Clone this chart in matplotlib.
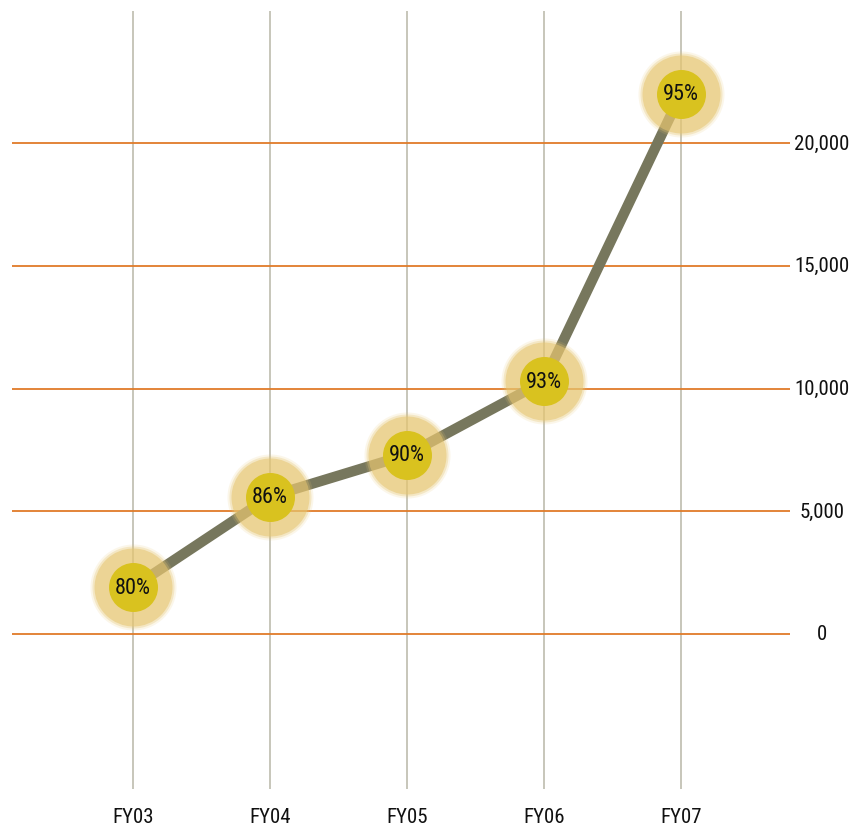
import numpy as np
import matplotlib
matplotlib.use('Agg')
import matplotlib.pyplot as plt

years = ['FY03', 'FY04', 'FY05', 'FY06', 'FY07']
values = [1900, 5600, 7300, 10300, 22000]
pct_labels = ['80%', '86%', '90%', '93%', '95%']
y_ticks = [0, 5000, 10000, 15000, 20000]

plt.rcParams['font.family'] = ['Roboto Condensed', 'Archivo Narrow', 'DejaVu Sans']

W, H = 866, 829
fig = plt.figure(figsize=(W / 100, H / 100), dpi=100)
# axes box spans pixel 12..790 both ways
ax = fig.add_axes([12 / W, 1 - 790 / H, 778 / W, 778 / H])
ax.set_axis_off()

x = np.arange(len(years))
ax.set_xlim((12 - 133) / 137, (790 - 133) / 137)
ax.set_ylim(-155 / 24.55 * 1000, 623 / 24.55 * 1000)

for yt in y_ticks:
    ax.axhline(yt, color='#e07b29', lw=1.3, zorder=1)
    fig.text(822 / W, ax.transData.transform((0, yt))[1] / H, f'{yt:,}',
             ha='center', va='center', fontsize=15, color='#111111')
for xi, lab in zip(x, years):
    ax.axvline(xi, color='#bdbcae', lw=1.2, zorder=0)
    fig.text(ax.transData.transform((xi, 0))[0] / W, 1 - 818 / H, lab,
             ha='center', va='center', fontsize=15, color='#111111')

ax.plot(x, values, color='#77775d', lw=7.5, solid_capstyle='butt', zorder=2)

# soft glow
for r, a in [(43, 0.15), (41, 0.3), (39, 0.55)]:
    s = (2 * r * 0.72) ** 2
    ax.scatter(x, values, s=s, color='#e6c570', alpha=a, lw=0, zorder=3)
ax.scatter(x, values, s=(2 * 24.5 * 0.72) ** 2, color='#d9c21f', lw=0, zorder=4)

for xi, v, p in zip(x, values, pct_labels):
    ax.text(xi, v, p, ha='center', va='center', fontsize=16, color='#111111', zorder=5)

fig.savefig('out.png', dpi=100, facecolor='white')
